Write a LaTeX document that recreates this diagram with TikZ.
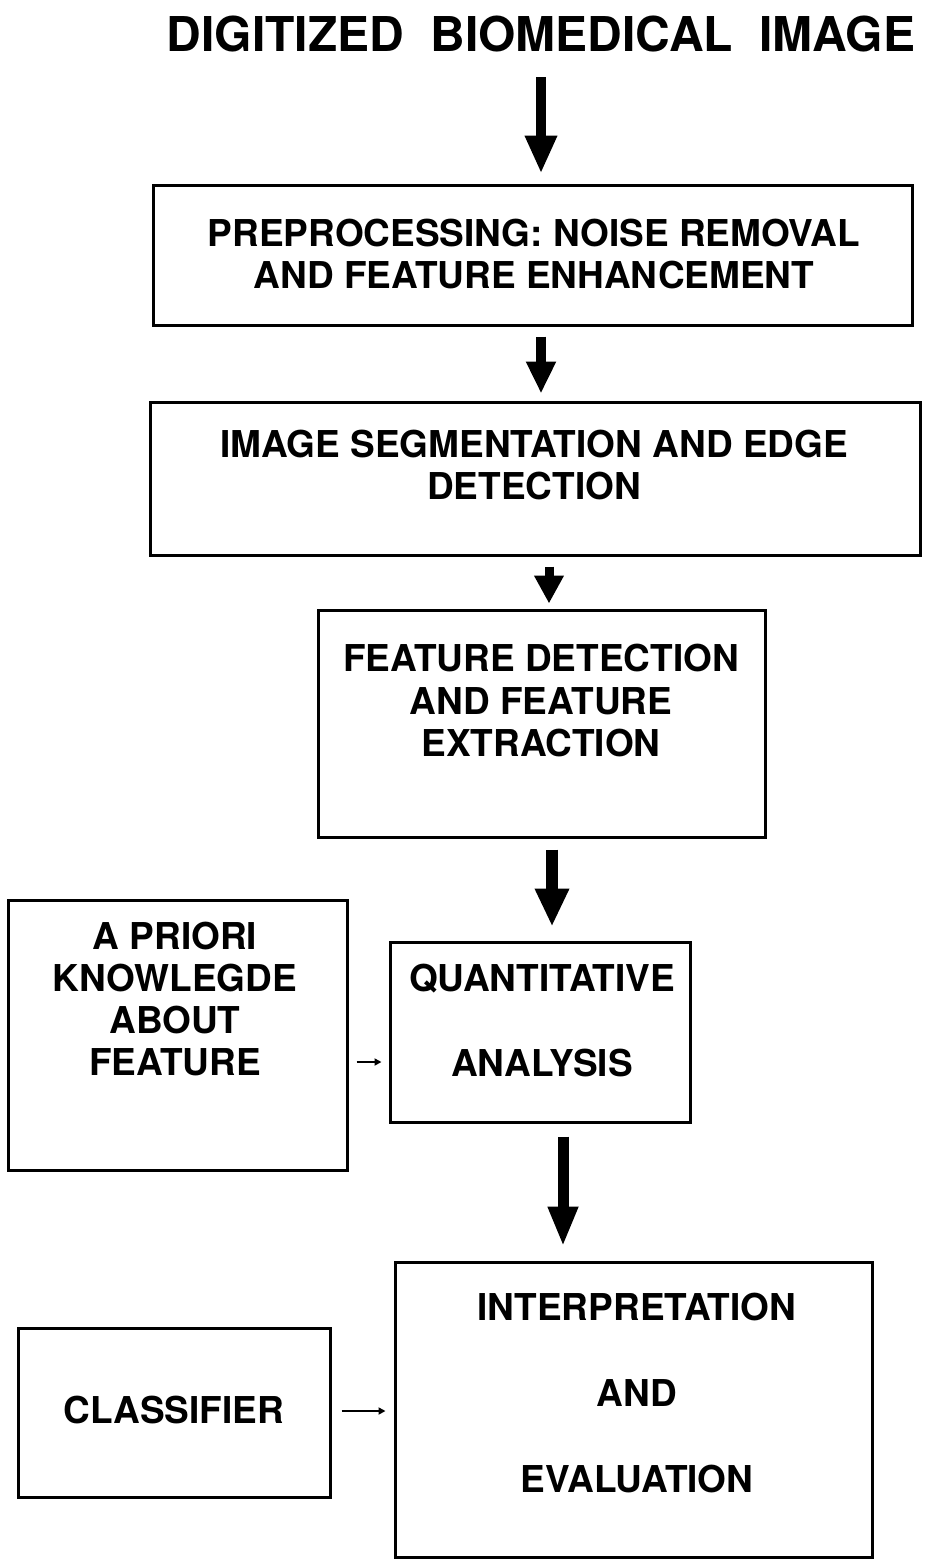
\documentclass[tikz,border=0pt]{standalone}
\usepackage{fontspec}
\setmainfont{TeX Gyre Heros}
\usetikzlibrary{arrows.meta,calc}
\begin{document}
\begin{tikzpicture}[x=1pt,y=-1pt,
  box/.style={draw,line width=3pt,inner sep=0pt},
  txt/.style={font=\bfseries\fontsize{37}{42}\selectfont,align=center,inner sep=0pt,anchor=north},
  bigarrow/.style={line width=10pt,-{Triangle[width=30pt,length=38pt]}},
  smallarrow/.style={line width=2pt,-{Triangle[width=7pt,length=7pt]}}
]
\useasboundingbox (0,0) rectangle (928,1561);

% title
\node[inner sep=0pt,font=\bfseries\fontsize{48}{52}\selectfont] (title) at (541,34)
  {DIGITIZED\hspace{0.55em}BIOMEDICAL\hspace{0.55em}IMAGE};

% boxes
\node[box,minimum width=759pt,minimum height=140pt] (pre) at (532.5,255) {};
\node[box,minimum width=770pt,minimum height=153pt] (seg) at (535,478.5) {};
\node[box,minimum width=447pt,minimum height=227pt] (feat) at (541.5,723.5) {};
\node[box,minimum width=339pt,minimum height=270pt] (apk) at (177.5,1035) {};
\node[box,minimum width=300pt,minimum height=180pt] (qa) at (540,1032) {};
\node[box,minimum width=477pt,minimum height=295pt] (interp) at (633.5,1409.5) {};
\node[box,minimum width=312pt,minimum height=169pt] (cls) at (174,1412.5) {};

% texts
\node[txt] (tpre) at (534,219) {PREPROCESSING: NOISE REMOVAL\\AND FEATURE ENHANCEMENT};
\node[txt] (tseg) at (534,430) {IMAGE SEGMENTATION AND EDGE\\DETECTION};
\node[txt,font=\bfseries\fontsize{37}{42.5}\selectfont] (tfeat) at (541,644) {FEATURE DETECTION\\AND FEATURE\\EXTRACTION};
\node[txt] (tapk) at (175,922) {A PRIORI\\KNOWLEGDE\\ABOUT\\FEATURE};
\node[txt,font=\bfseries\fontsize{37}{85}\selectfont] (tqa) at (542,964) {QUANTITATIVE\\ANALYSIS};
\node[txt,font=\bfseries\fontsize{37}{86}\selectfont] (tint) at (637,1293) {INTERPRETATION\\AND\\EVALUATION};
\node[inner sep=0pt,font=\bfseries\fontsize{37}{42}\selectfont] (tcls) at (174,1410) {CLASSIFIER};

% connectors
\coordinate (a1) at (title.south);
\draw[bigarrow,shorten <=25pt,shorten >=10pt] (a1) -- (a1 |- pre.north);

\coordinate (a2) at ([xshift=8.5pt]pre.south);
\draw[bigarrow,-{Triangle[width=28pt,length=32pt]},shorten <=10pt,shorten >=7pt] (a2) -- (a2 |- seg.north);

\coordinate (a3) at ([xshift=14pt]seg.south);
\draw[line width=9pt,-{Triangle[width=28pt,length=28pt]},shorten <=10pt,shorten >=5pt] (a3) -- (a3 |- feat.north);

\coordinate (a4) at ([xshift=10.5pt]feat.south);
\draw[line width=12pt,-{Triangle[width=32pt,length=38pt]},shorten <=11pt,shorten >=14pt] (a4) -- (a4 |- qa.north);

\coordinate (a5) at ([xshift=23pt]qa.south);
\draw[line width=11pt,-{Triangle[width=28pt,length=40pt]},shorten <=13pt,shorten >=14pt] (a5) -- (a5 |- interp.north);

\coordinate (s1) at ([yshift=-27pt]apk.east);
\draw[smallarrow,shorten <=8pt,shorten >=7pt] (s1) -- (s1 -| qa.west);

\coordinate (s2) at ([yshift=1.5pt]cls.east);
\draw[smallarrow,shorten <=10pt,shorten >=8pt] (s2) -- (s2 -| interp.west);
\end{tikzpicture}
\end{document}
